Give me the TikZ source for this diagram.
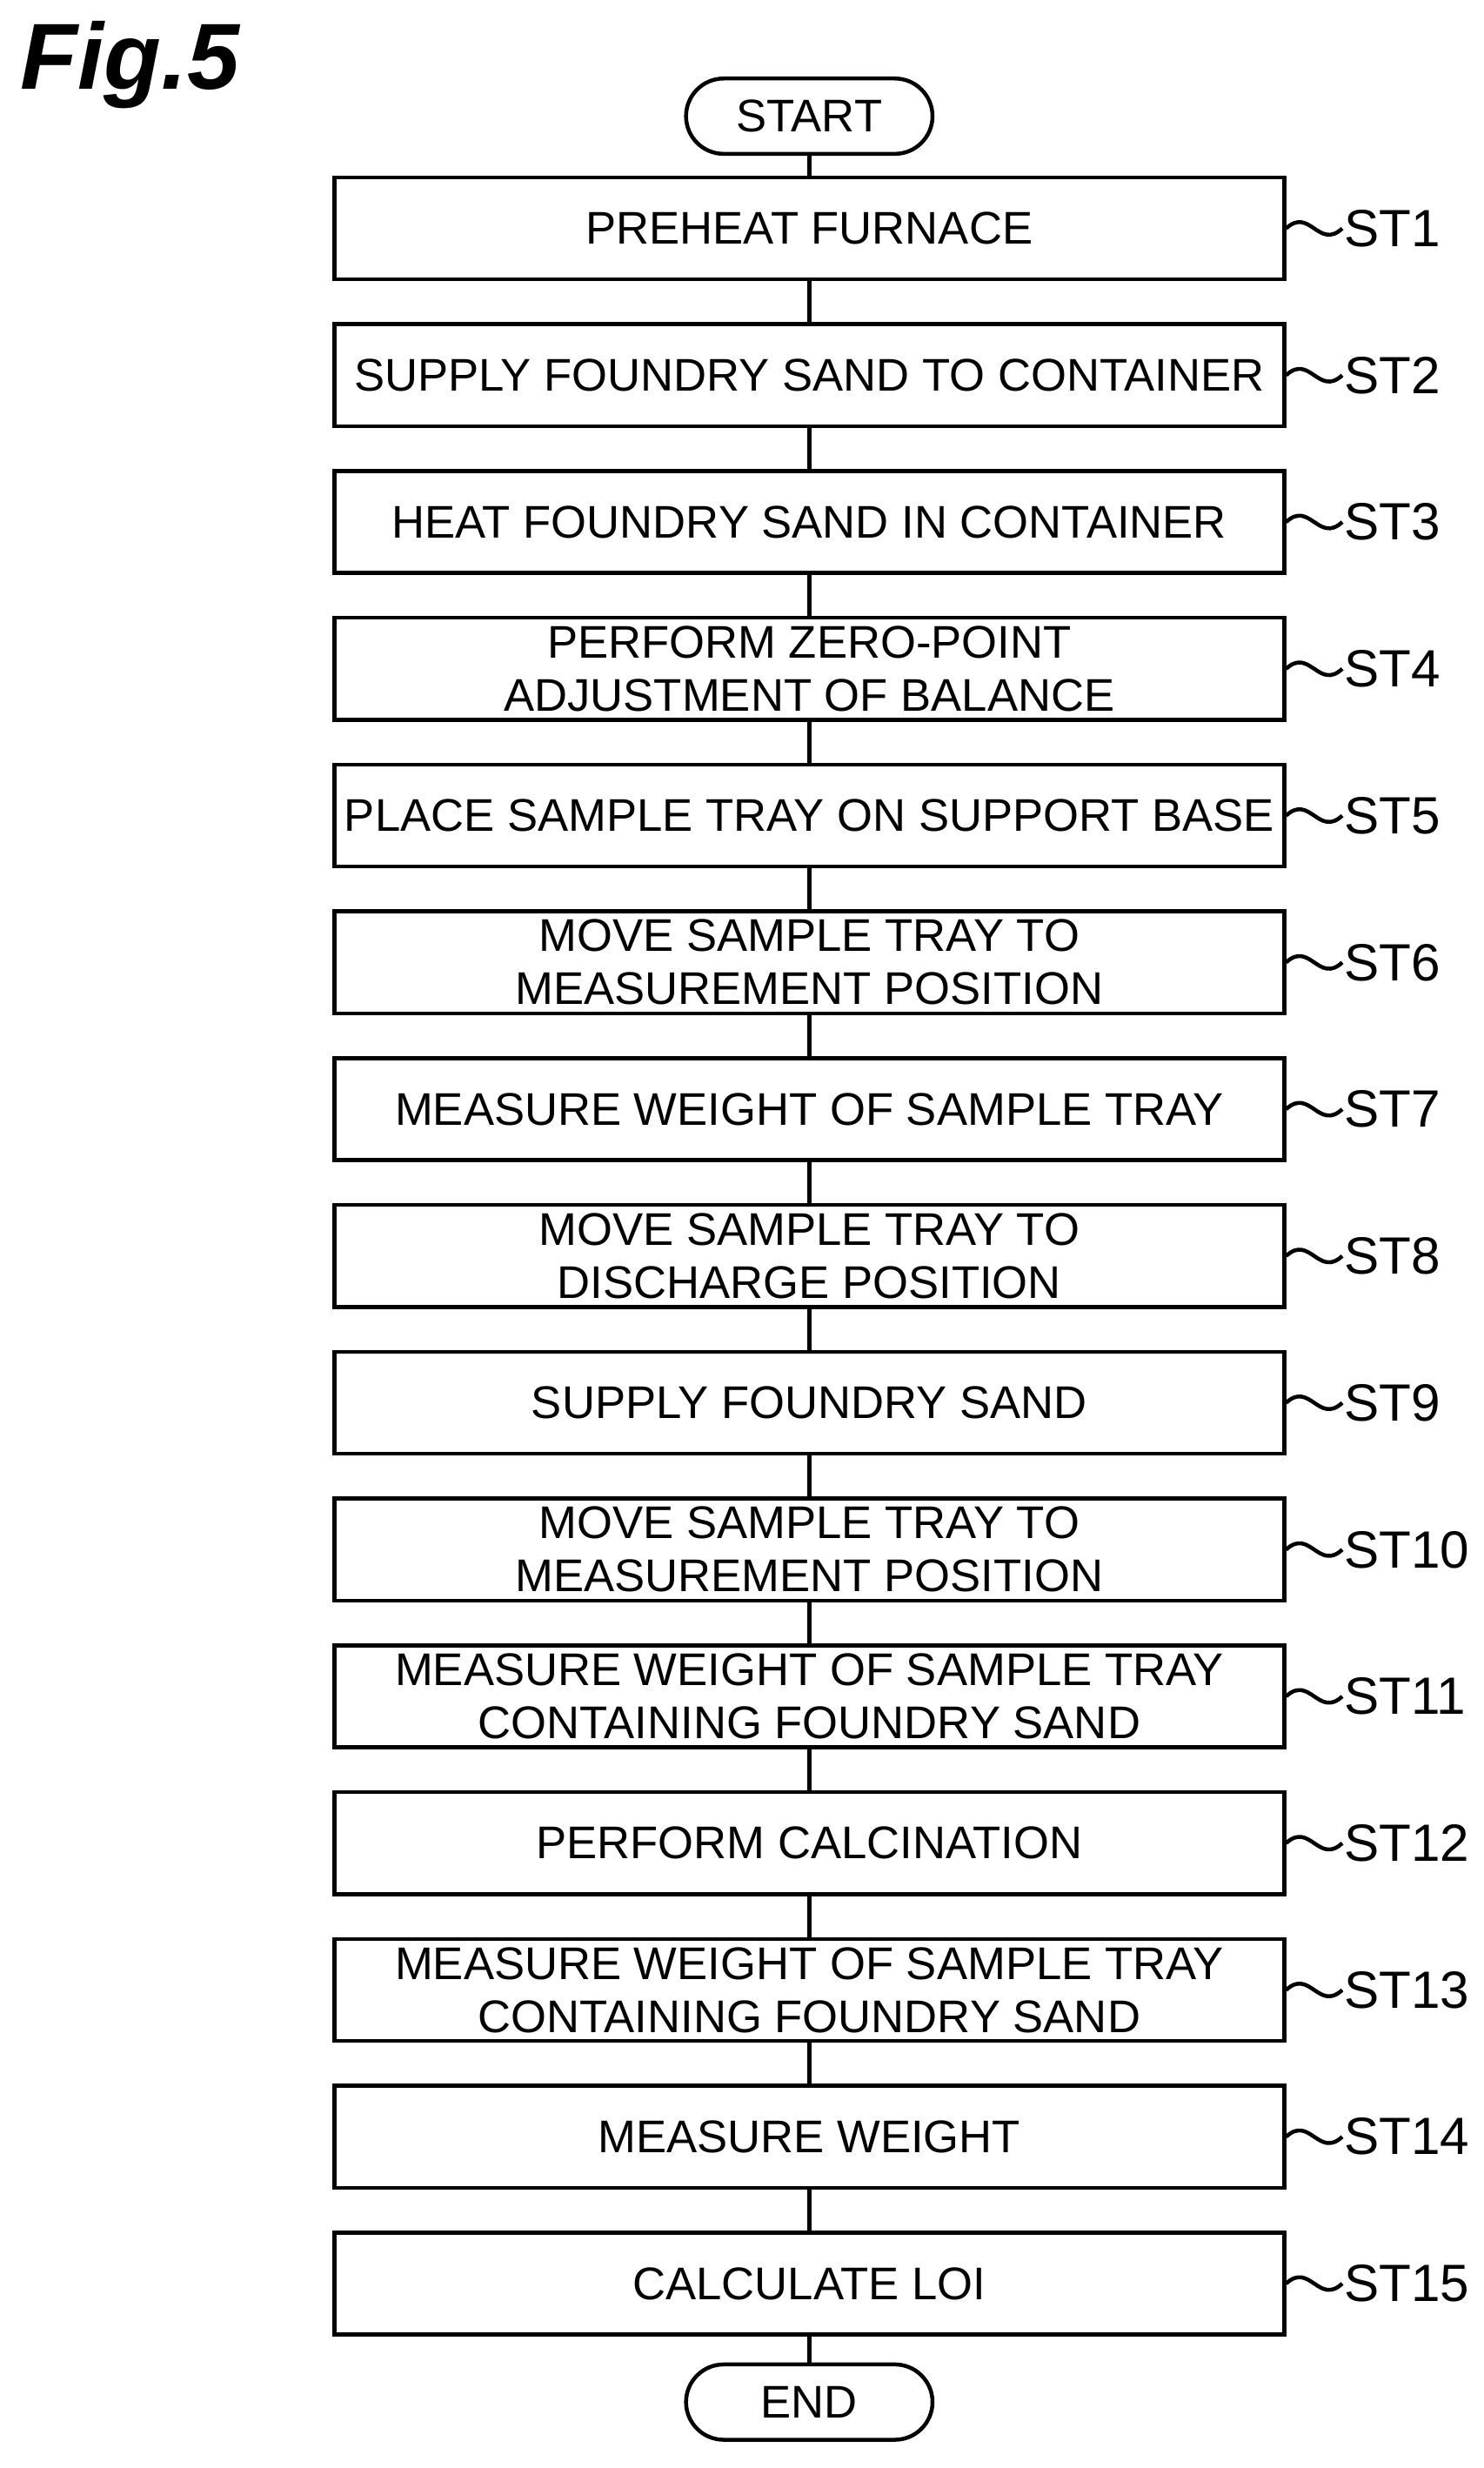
\documentclass[tikz,border=0pt]{standalone}
\usepackage{fontspec}
\setmainfont{Liberation Sans}
\usetikzlibrary{positioning}
\tikzset{
  stepbox/.style={draw,line width=0.25mm,minimum width=60.5mm,minimum height=6.5mm,align=center,font=\fontsize{8.3}{9.6}\selectfont,inner sep=0pt},
  term/.style={draw,line width=0.25mm,rounded corners=2.4mm,minimum width=15.7mm,minimum height=4.8mm,font=\fontsize{8.3}{9.6}\selectfont},
  steplabel/.style={font=\fontsize{9.5}{11}\selectfont,anchor=west,inner sep=0pt}
}
\begin{document}
\begin{tikzpicture}[x=0.1mm,y=-0.1mm,line width=0.25mm]
  \useasboundingbox (0,0) rectangle (945,1572);
  % figure title
  \node[anchor=north west,inner sep=0pt,font=\fontsize{17}{20}\selectfont\bfseries\itshape] (fig) at (12,12) {Fig.5};
  % terminals
  \node[term] (start) at (515.5,74) {START};
  \node[term] (end) at (515.5,1530) {END};
  % steps
  \foreach \i/\txt in {1/PREHEAT FURNACE,
    2/SUPPLY FOUNDRY SAND TO CONTAINER,
    3/HEAT FOUNDRY SAND IN CONTAINER,
    4/{PERFORM ZERO-POINT\\ADJUSTMENT OF BALANCE},
    5/PLACE SAMPLE TRAY ON SUPPORT BASE,
    6/{MOVE SAMPLE TRAY TO\\MEASUREMENT POSITION},
    7/MEASURE WEIGHT OF SAMPLE TRAY,
    8/{MOVE SAMPLE TRAY TO\\DISCHARGE POSITION},
    9/SUPPLY FOUNDRY SAND,
    10/{MOVE SAMPLE TRAY TO\\MEASUREMENT POSITION},
    11/{MEASURE WEIGHT OF SAMPLE TRAY\\CONTAINING FOUNDRY SAND},
    12/PERFORM CALCINATION,
    13/{MEASURE WEIGHT OF SAMPLE TRAY\\CONTAINING FOUNDRY SAND},
    14/MEASURE WEIGHT,
    15/CALCULATE LOI}
  {
    \node[stepbox] (st\i) at (515.5,{145.5+(\i-1)*93.5}) {\txt};
    \node[steplabel] (lab\i) at (855,{145.5+(\i-1)*93.5}) {ST\i};
    \draw (st\i.east) .. controls ++(15,-14) and ++(-15,14) .. (lab\i.west);
  }
  % connectors
  \draw (start) -- (st1);
  \foreach \i [evaluate=\i as \j using int(\i+1)] in {1,...,14}
    \draw (st\i) -- (st\j);
  \draw (st15) -- (end);
\end{tikzpicture}
\end{document}
